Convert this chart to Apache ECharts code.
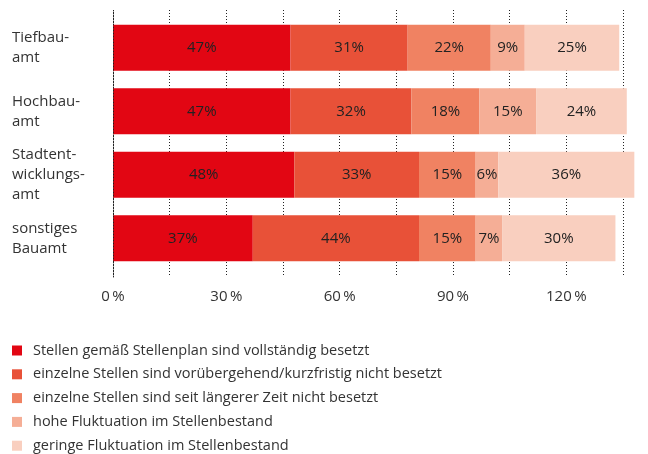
<!DOCTYPE html>
<html>
<head>
<meta charset="utf-8">
<script src="https://cdn.jsdelivr.net/npm/echarts@6/dist/echarts.min.js"></script>
<style>html,body{margin:0;padding:0;background:#fff}#chart{width:648px;height:454px}</style>
</head>
<body>
<div id="chart"></div>
<script>
// Kategorien und Werte (Prozent)
var categories = ['Tiefbau-\namt', 'Hochbau-\namt', 'Stadtent-\nwicklungs-\namt', 'sonstiges\nBauamt'];
var seriesNames = [
  'Stellen gemäß Stellenplan sind vollständig besetzt',
  'einzelne Stellen sind vorübergehend/kurzfristig nicht besetzt',
  'einzelne Stellen sind seit längerer Zeit nicht besetzt',
  'hohe Fluktuation im Stellenbestand',
  'geringe Fluktuation im Stellenbestand'
];
var vollBesetzt = [47, 47, 48, 37];
var kurzfristig = [31, 32, 33, 44];
var laengerfristig = [22, 18, 15, 15];
var hoheFluktuation = [9, 15, 6, 7];
var geringeFluktuation = [25, 24, 36, 30];
var tickLabels = [0, 30, 60, 90, 120];

var colors = ['#e20613', '#e85138', '#f08262', '#f5ae96', '#f9cfbf'];
var font = '"Open Sans", "Noto Sans", sans-serif';

var myChart = echarts.init(document.getElementById('chart'));

function makeSerie(i, data) {
  return {
    name: seriesNames[i],
    type: 'bar',
    stack: 'gesamt',
    xAxisIndex: 1,
    yAxisIndex: 1,
    barWidth: 46,
    clip: false,
    itemStyle: { color: colors[i] },
    label: {
      show: true,
      position: 'inside',
      formatter: '{c}%',
      color: '#222',
      fontSize: 15,
      fontFamily: font
    },
    data: data
  };
}

var option = {
  animation: false,
  color: colors,
  legend: {
    orient: 'vertical',
    left: 12,
    top: 343,
    height: 130,
    padding: 0,
    icon: 'rect',
    itemWidth: 10,
    itemHeight: 10,
    itemGap: 8.8,
    textStyle: { fontSize: 14.5, color: '#333', fontFamily: font, padding: [0, 0, 0, 6] },
    data: seriesNames
  },
  grid: [
    // Raster fuer die gepunkteten Linien
    { left: 113, right: 25, top: 10, height: 267 },
    // Raster fuer die Balken
    { left: 113, right: 25, top: 16, height: 254 }
  ],
  xAxis: [
    {
      gridIndex: 0,
      type: 'value',
      min: 0,
      max: 135,
      interval: 15,
      axisLine: { show: false },
      axisTick: { show: false },
      splitLine: { show: true, lineStyle: { color: '#222', width: 1, type: [1, 2] } },
      axisLabel: {
        fontSize: 15,
        color: '#333',
        fontFamily: font,
        margin: 12,
        formatter: function (v) {
          return tickLabels.indexOf(v) >= 0 ? v + '\u2009%' : '';
        }
      }
    },
    {
      gridIndex: 1,
      type: 'value',
      min: 0,
      max: 135,
      show: false
    }
  ],
  yAxis: [
    {
      gridIndex: 0,
      type: 'category',
      data: categories,
      z: 10,
      axisLine: { show: true, onZero: false, lineStyle: { color: '#222', width: 1, type: [1, 2] } },
      axisTick: { show: false },
      axisLabel: { show: false },
      splitLine: { show: false }
    },
    {
      gridIndex: 1,
      type: 'category',
      inverse: true,
      data: categories,
      axisLine: { show: false },
      axisTick: { show: false },
      axisLabel: {
        align: 'left',
        margin: 101,
        fontSize: 15,
        lineHeight: 20,
        color: '#333',
        fontFamily: font
      }
    }
  ],
  series: [
    makeSerie(0, vollBesetzt),
    makeSerie(1, kurzfristig),
    makeSerie(2, laengerfristig),
    makeSerie(3, hoheFluktuation),
    makeSerie(4, geringeFluktuation)
  ]
};
myChart.setOption(option);
</script>
</body>
</html>
